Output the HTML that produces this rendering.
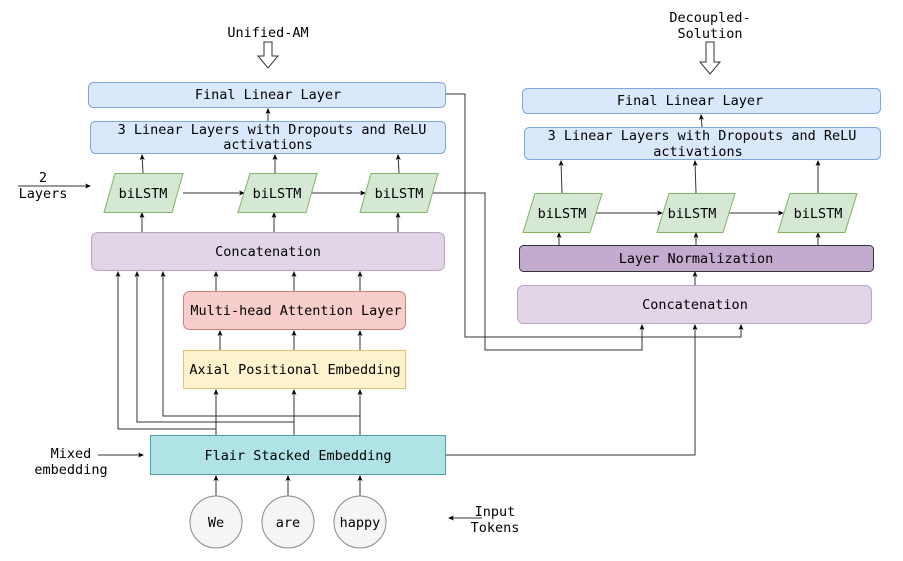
<!DOCTYPE html>
<html><head><meta charset="utf-8"><style>
html,body{margin:0;padding:0;background:#fff;width:903px;height:561px;overflow:hidden}
text{font-family:"DejaVu Sans Mono","Liberation Mono",monospace;font-size:13.5px;fill:#000}
</style></head><body>
<svg width="903" height="561" viewBox="0 0 903 561" xmlns="http://www.w3.org/2000/svg">
<defs>
<marker id="a" markerWidth="6" markerHeight="6" refX="5" refY="3" orient="auto" markerUnits="userSpaceOnUse">
<path d="M0,0.5 L6,3 L0,5.5 L1.5,3 z" fill="#000"/></marker>
</defs>
<g fill="none" stroke="#333" stroke-width="1">
<line x1="268" y1="121" x2="268" y2="109" marker-end="url(#a)"/>
<line x1="143" y1="173" x2="142" y2="155" marker-end="url(#a)"/>
<line x1="275" y1="173" x2="275" y2="155" marker-end="url(#a)"/>
<line x1="399" y1="173" x2="398" y2="155" marker-end="url(#a)"/>
<line x1="183" y1="193" x2="244" y2="193" marker-end="url(#a)"/>
<line x1="311" y1="193" x2="365" y2="193" marker-end="url(#a)"/>
<line x1="142" y1="232" x2="142" y2="213" marker-end="url(#a)"/>
<line x1="274" y1="232" x2="274" y2="213" marker-end="url(#a)"/>
<line x1="398" y1="232" x2="398" y2="213" marker-end="url(#a)"/>
<line x1="216" y1="291" x2="216" y2="272" marker-end="url(#a)"/>
<line x1="294" y1="291" x2="294" y2="272" marker-end="url(#a)"/>
<line x1="360" y1="291" x2="360" y2="272" marker-end="url(#a)"/>
<line x1="220" y1="350" x2="220" y2="331" marker-end="url(#a)"/>
<line x1="294" y1="350" x2="294" y2="331" marker-end="url(#a)"/>
<line x1="360" y1="350" x2="360" y2="331" marker-end="url(#a)"/>
<line x1="216" y1="435" x2="216" y2="390" marker-end="url(#a)"/>
<line x1="294" y1="435" x2="294" y2="390" marker-end="url(#a)"/>
<line x1="360" y1="435" x2="360" y2="390" marker-end="url(#a)"/>
<polyline points="216,429 118,429 118,272" marker-end="url(#a)"/>
<polyline points="294,422 137,422 137,272" marker-end="url(#a)"/>
<polyline points="360,416 163,416 163,272" marker-end="url(#a)"/>
<line x1="216" y1="496" x2="216" y2="476" marker-end="url(#a)"/>
<line x1="288" y1="496" x2="288" y2="476" marker-end="url(#a)"/>
<line x1="360" y1="496" x2="360" y2="476" marker-end="url(#a)"/>
<line x1="18" y1="186" x2="90" y2="186" marker-end="url(#a)"/>
<line x1="98" y1="455" x2="143" y2="455" marker-end="url(#a)"/>
<line x1="482" y1="518" x2="449" y2="518" marker-end="url(#a)"/>
<polyline points="446,94 465,94 465,337 741,337 741,325" marker-end="url(#a)"/>
<polyline points="433,193 485,193 485,350 642,350 642,325" marker-end="url(#a)"/>
<polyline points="445,455 695,455 695,325" marker-end="url(#a)"/>
<line x1="702" y1="127" x2="701" y2="115" marker-end="url(#a)"/>
<line x1="562" y1="193" x2="561" y2="161" marker-end="url(#a)"/>
<line x1="696" y1="193" x2="695" y2="161" marker-end="url(#a)"/>
<line x1="818" y1="193" x2="818" y2="161" marker-end="url(#a)"/>
<line x1="595" y1="213" x2="662" y2="213" marker-end="url(#a)"/>
<line x1="729" y1="213" x2="783" y2="213" marker-end="url(#a)"/>
<line x1="559" y1="245" x2="559" y2="233" marker-end="url(#a)"/>
<line x1="696" y1="245" x2="696" y2="233" marker-end="url(#a)"/>
<line x1="818" y1="245" x2="818" y2="233" marker-end="url(#a)"/>
<line x1="695" y1="285" x2="695" y2="272" marker-end="url(#a)"/>
</g>
<path d="M264,42 h8 v14 h6 l-10,12 l-10,-12 h6 z" fill="#fff" stroke="#333"/>
<path d="M706,42 h8 v20 h6 l-10,12 l-10,-12 h6 z" fill="#fff" stroke="#333"/>
<rect x="88.5" y="82.5" width="357" height="25" rx="5" fill="#dae8fc" stroke="#7ea6e0"/>
<text x="268" y="99" text-anchor="middle">Final Linear Layer</text>
<rect x="90.5" y="121.5" width="355" height="32" rx="5" fill="#dae8fc" stroke="#7ea6e0"/>
<text x="272" y="134" text-anchor="middle">3 Linear Layers with Dropouts and ReLU</text>
<text x="268" y="149" text-anchor="middle">activations</text>
<polygon points="115,173.5 183,173.5 172,212.5 104,212.5" fill="#d5e8d4" stroke="#82b366"/>
<text x="143" y="198" text-anchor="middle">biLSTM</text>
<polygon points="250,173.5 317,173.5 306,212.5 238,212.5" fill="#d5e8d4" stroke="#82b366"/>
<text x="277" y="198" text-anchor="middle">biLSTM</text>
<polygon points="371,173.5 438,173.5 427,212.5 360,212.5" fill="#d5e8d4" stroke="#82b366"/>
<text x="399" y="198" text-anchor="middle">biLSTM</text>
<rect x="91.5" y="232.5" width="353" height="38" rx="6" fill="#e1d5e7" stroke="#9673a6" stroke-opacity="0.6"/>
<text x="268" y="256" text-anchor="middle">Concatenation</text>
<rect x="183.5" y="291.5" width="222" height="38" rx="6" fill="#f8cecc" stroke="#b85450" stroke-opacity="0.7"/>
<text x="296" y="315" text-anchor="middle">Multi-head Attention Layer</text>
<rect x="183.5" y="350.5" width="222" height="38" fill="#fff2cc" stroke="#d6b656" stroke-opacity="0.8"/>
<text x="295" y="374" text-anchor="middle">Axial Positional Embedding</text>
<rect x="150.5" y="435.5" width="295" height="39" fill="#b0e3e6" stroke="#0e8088" stroke-opacity="0.7"/>
<text x="298" y="460" text-anchor="middle">Flair Stacked Embedding</text>
<circle cx="216" cy="522" r="26" fill="#f5f5f5" stroke="#888"/>
<text x="216" y="527" text-anchor="middle">We</text>
<circle cx="288" cy="522" r="26" fill="#f5f5f5" stroke="#888"/>
<text x="288" y="527" text-anchor="middle">are</text>
<circle cx="360" cy="522" r="26" fill="#f5f5f5" stroke="#888"/>
<text x="360" y="527" text-anchor="middle">happy</text>
<text x="268" y="37" text-anchor="middle">Unified-AM</text>
<text x="43" y="182" text-anchor="middle">2</text>
<text x="43" y="198" text-anchor="middle">Layers</text>
<text x="71" y="458" text-anchor="middle">Mixed</text>
<text x="71" y="474" text-anchor="middle">embedding</text>
<text x="495" y="516" text-anchor="middle">Input</text>
<text x="495" y="532" text-anchor="middle">Tokens</text>
<text x="710" y="22" text-anchor="middle">Decoupled-</text>
<text x="710" y="38" text-anchor="middle">Solution</text>
<rect x="522.5" y="88.5" width="358" height="25" rx="5" fill="#dae8fc" stroke="#7ea6e0"/>
<text x="690" y="105" text-anchor="middle">Final Linear Layer</text>
<rect x="524.5" y="127.5" width="356" height="32" rx="5" fill="#dae8fc" stroke="#7ea6e0"/>
<text x="702" y="140" text-anchor="middle">3 Linear Layers with Dropouts and ReLU</text>
<text x="698" y="156" text-anchor="middle">activations</text>
<polygon points="535,193.5 602,193.5 590,232.5 523,232.5" fill="#d5e8d4" stroke="#82b366"/>
<text x="562" y="218" text-anchor="middle">biLSTM</text>
<polygon points="669,193.5 735,193.5 723,232.5 657,232.5" fill="#d5e8d4" stroke="#82b366"/>
<text x="692" y="218" text-anchor="middle">biLSTM</text>
<polygon points="790,193.5 857,193.5 845,232.5 778,232.5" fill="#d5e8d4" stroke="#82b366"/>
<text x="818" y="218" text-anchor="middle">biLSTM</text>
<rect x="519.5" y="245.5" width="354" height="26" rx="4" fill="#c3abd0" stroke="#333"/>
<text x="696" y="263" text-anchor="middle">Layer Normalization</text>
<rect x="517.5" y="285.5" width="354" height="38" rx="6" fill="#e1d5e7" stroke="#9673a6" stroke-opacity="0.6"/>
<text x="695" y="309" text-anchor="middle">Concatenation</text>
</svg>
</body></html>
